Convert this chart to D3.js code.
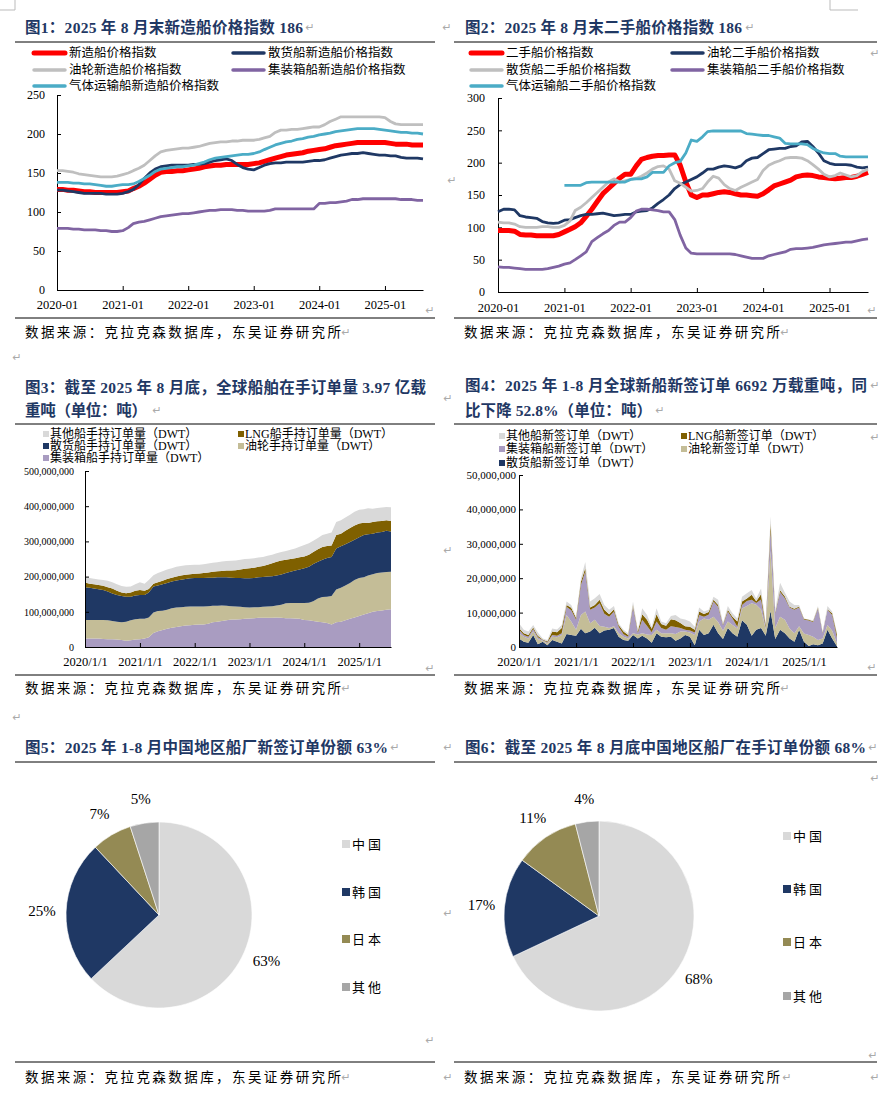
<!DOCTYPE html>
<html>
<head>
<meta charset="utf-8">
<script src="https://cdn.jsdelivr.net/npm/d3@7"></script>
<style>
  body { margin: 0; background: #fff; }
</style>
</head>
<body>
<svg id="page" width="883" height="1099"></svg>
<script>
// months 2020-01 .. 2025-08
const months = d3.timeMonth.range(new Date(2020, 0, 1), new Date(2025, 8, 1));
const yearTicks = d3.timeYear.range(new Date(2020, 0, 1), new Date(2025, 1, 1));

// 图1 新造船价格指数
const nbAll = [129,129,128,128,127,126,126,125,125,125,125,125,
  126,127,130,133,137,142,147,151,152,152,153,153,
  154,155,156,158,159,160,160,161,161,161,161,161,
  162,163,165,167,169,171,173,174,175,176,178,179,
  180,181,183,185,186,187,188,189,189,189,189,189,
  189,188,187,187,187,186,186,186];
const nbBulk = [128,128,127,126,125,124,124,124,124,123,123,123,
  124,126,129,135,143,150,155,158,159,160,160,160,
  160,161,161,162,164,166,167,168,166,161,157,155,
  154,157,160,162,163,163,164,164,164,164,165,166,
  166,167,169,171,173,174,175,175,176,175,174,173,
  173,172,172,170,169,169,169,168];
const nbTanker = [153,153,152,151,149,148,147,146,145,145,145,146,
  148,150,153,156,160,166,172,177,179,180,181,182,
  182,183,184,186,188,189,190,190,191,191,192,192,
  192,193,195,197,202,205,205,206,206,207,208,209,
  209,212,216,219,222,222,222,222,222,222,222,222,
  221,216,213,212,212,212,212,212];
const nbContainer = [79,79,79,78,78,77,77,77,76,76,75,75,
  76,80,85,87,88,90,92,94,95,96,97,98,
  98,99,100,101,102,102,103,103,103,102,102,101,
  101,101,101,102,104,104,104,104,104,104,104,104,
  111,111,112,112,113,114,116,116,117,117,117,117,
  117,117,117,116,116,116,115,115];
const nbGas = [138,138,138,137,137,136,136,135,134,133,133,134,
  135,135,136,139,143,147,152,155,156,157,158,158,
  159,160,162,164,167,169,170,171,172,173,174,174,
  175,177,180,183,186,188,190,191,193,194,196,197,
  199,200,201,203,204,205,206,207,207,207,207,206,
  205,204,203,202,202,201,201,200];
const nbNames = ["新造船价格指数", "散货船新造船价格指数", "油轮新造船价格指数", "集装箱船新造船价格指数", "气体运输船新造船价格指数"];

// 图2 二手船价格指数
const shAll = [95,95,95,94,89,88,88,87,87,87,87,89,
  93,97,101,107,117,128,140,152,160,168,176,182,
  182,195,205,208,210,211,211,212,212,196,170,150,
  146,150,150,152,154,155,154,152,150,150,149,148,
  152,158,164,167,170,173,178,180,181,180,178,177,
  176,175,176,177,177,179,182,185];
const shTanker = [124,128,128,127,118,116,115,114,109,107,106,107,
  111,112,115,118,120,120,121,122,120,118,119,120,
  120,124,125,126,130,137,143,150,160,166,170,174,
  178,184,190,190,193,195,194,192,195,203,207,208,
  214,220,221,222,222,225,226,232,233,225,215,203,
  199,197,197,197,196,193,192,193];
const shBulk = [108,107,107,105,101,100,100,100,101,101,100,100,
  103,110,126,131,138,146,154,162,170,175,170,172,
  174,176,179,184,190,194,195,190,172,168,162,156,
  157,160,170,179,176,166,160,157,162,166,170,174,
  188,196,200,203,207,208,208,207,203,197,190,182,
  178,180,184,181,178,180,186,190];
const shContainer = [39,38,38,37,36,35,35,35,35,36,38,40,
  43,45,50,56,62,78,84,90,95,103,108,108,
  115,125,128,128,127,126,124,124,112,88,68,60,
  59,59,59,59,59,59,59,58,56,54,52,52,
  52,56,58,60,62,66,67,67,68,69,71,73,
  74,75,76,77,77,79,81,82];
const shGas = [null,null,null,null,null,null,null,null,null,null,null,null,
  165,165,165,165,169,170,170,170,170,170,170,170,
  174,175,175,178,185,185,185,195,200,202,215,235,
  233,240,248,249,249,249,249,249,249,245,244,243,
  242,242,240,238,230,229,229,229,228,222,218,215,
  214,214,210,209,209,209,209,209];
const shNames = ["二手船价格指数", "油轮二手船价格指数", "散货船二手船价格指数", "集装箱船二手船价格指数", "气体运输船二手船价格指数"];

// 图3 在手订单量（百万载重吨）
const obContainer = [24,24,24,24,23,22,22,21,20,18,19,21,
  22,24,28,40,45,48,52,55,57,59,61,62,
  63,64,64,66,70,72,74,76,78,78,79,80,
  81,82,83,83,83,83,84,83,82,82,81,80,
  77,76,74,72,70,68,64,70,72,76,80,84,
  88,92,96,100,102,104,106,107];
const obTanker = [53,53,53,53,54,54,52,51,50,54,57,58,
  58,56,56,58,57,55,54,55,55,54,53,53,
  52,51,51,50,47,45,44,41,38,37,35,33,
  31,31,30,31,32,33,34,37,42,43,44,45,
  48,50,56,66,72,75,81,93,96,99,102,106,
  108,106,107,107,108,108,107,107];
const obBulk = [93,91,89,87,85,82,78,76,75,71,67,67,
  68,68,71,74,73,75,76,76,77,78,79,80,
  81,81,81,81,80,81,80,81,81,81,82,82,
  83,83,85,85,85,85,85,86,86,89,92,95,
  99,102,106,104,106,110,111,117,118,117,116,115,
  116,120,117,115,115,115,117,114];
const obLng = [13,12,12,12,12,12,14,12,10,10,12,14,
  14,12,10,8,9,10,11,11,11,12,12,12,
  12,13,14,15,17,17,18,19,20,22,24,27,
  29,29,30,31,34,37,39,40,38,36,35,35,
  33,34,34,36,36,34,32,38,36,38,40,40,
  39,35,32,33,32,31,30,30];
const obOther = [15,16,16,16,16,18,18,18,18,18,17,18,
  22,20,25,24,26,27,27,27,28,27,27,26,
  26,25,25,25,25,26,27,27,28,28,28,28,
  27,27,26,26,25,24,24,24,25,26,28,30,
  33,33,32,32,34,35,37,37,38,38,38,39,
  39,38,42,38,38,38,38,39];

// 图4 新签订单（百万载重吨）
const noBulk = [2.5,1.5,1.2,3.5,0.8,1.5,0.5,2.0,1.5,1.0,3.8,3.5,
  3.3,5.3,4.0,4.5,5.6,4.0,4.8,5.0,5.5,3.0,2.0,1.8,
  3.5,2.5,3.3,2.5,1.2,4.0,3.0,2.8,3.0,1.8,2.5,3.5,
  3.0,0.5,5.0,3.5,4.0,6.5,4.0,2.3,5.5,4.0,3.0,7.8,
  6.5,3.3,5.0,5.5,3.3,10.5,2.3,5.0,4.0,2.5,1.5,5.0,
  1.5,0.3,0.8,0.5,1.0,5.0,2.5,0.2];
const noTanker = [1.5,1.5,1.3,1.0,1.5,0.3,0.5,1.0,1.3,2.5,5.5,3.9,
  1.7,4.0,6.3,2.4,2.3,2.1,1.1,0.5,0.5,1.0,1.0,0.7,
  0.5,1.1,0.7,1.1,2.3,1.0,1.0,1.2,1.0,2.0,2.0,1.0,
  1.2,3.0,2.4,4.8,3.9,2.3,3.3,2.4,1.9,2.4,2.4,3.4,
  5.4,9.4,7.3,5.4,1.8,17.5,3.2,3.8,3.9,2.9,2.5,1.0,
  2.4,3.2,2.2,1.5,1.5,1.4,2.2,0.9];
const noContainer = [1.0,0.5,0.5,0.7,0.5,0.2,0.3,0.5,0.5,0.5,2.4,3.3,
  2.9,8.7,11.7,3.9,3.6,6.6,3.8,3.3,4.3,1.9,0.7,0.5,
  7.7,0.5,3.9,2.5,0.8,2.4,1.5,1.0,2.0,2.0,1.0,0.5,
  0.6,0.7,1.9,0.5,1.5,4.4,4.4,1.6,2.9,1.9,0.5,1.0,
  1.5,1.0,0.5,2.9,0.5,6.0,4.3,7.2,6.3,6.1,6.8,5.5,
  4.1,4.2,4.3,9.2,1.5,4.4,4.6,1.5];
const noLng = [0.5,0.5,0.5,0.5,0.5,0.2,0.3,1.0,1.0,1.5,0.5,0.7,
  0.5,1.0,1.0,0.7,0.7,1.0,1.1,0.7,0.7,0.5,0.8,0.5,
  0.5,0.5,1.6,1.8,1.0,2.1,1.2,1.2,2.1,2.0,1.5,1.0,
  1.1,0.8,1.0,0.8,0.8,0.5,0.5,0.3,0.5,0.5,1.5,1.0,
  0.7,1.5,0.5,1.5,0.7,2.0,0.3,0.5,0.5,0.2,0.3,0.3,
  0.2,0.2,0.2,0.3,0.2,0.2,0.5,1.0];
const noOther = [1.4,1.0,1.0,0.7,0.9,0.3,0.4,0.9,0.8,0.9,1.0,0.8,
  0.4,1.0,1.7,1.7,2.0,1.7,1.4,1.3,0.9,0.5,0.5,0.5,
  1.0,0.4,1.8,1.4,0.6,1.8,0.7,0.7,0.9,1.5,1.3,2.0,
  1.5,0.9,1.2,0.7,0.6,0.9,1.5,0.4,1.1,1.0,0.9,1.4,
  1.5,1.4,0.8,1.7,0.6,2.0,0.7,2.2,1.1,1.5,1.1,0.4,
  0.1,0.1,0.3,0.4,0.3,0.9,0.5,0.4];

// 图5 / 图6 份额
const pieNames = ["中国", "韩国", "日本", "其他"];
const pie5Values = [63, 25, 7, 5];
const pie6Values = [68, 17, 11, 4];

const SERIF = "'Liberation Serif','Noto Sans CJK SC',serif";
const TITLE = "#1F3864";
const RED = "#FF0000", NAVY = "#1F3864", LGRAY = "#BFBFBF", PURPLE = "#8064A2", CYAN = "#4BACC6";
const C_OTHER = "#D9D9D9", C_LNG = "#7F6000", C_BULK = "#1F3864", C_TANKER = "#C4BD97", C_CONT = "#A99CC1";
const pieColors = ["#D9D9D9", "#1F3864", "#948A54", "#A6A6A6"];

const svg = d3.select("#page");

function addText(x, y, s, size, o) {
  o = o || {};
  const t = svg.append("text")
    .attr("x", x).attr("y", y)
    .attr("dominant-baseline", "central")
    .attr("font-family", o.font || SERIF)
    .attr("font-size", size)
    .attr("fill", o.fill || "#000")
    .attr("text-anchor", o.anchor || "start")
    .text(s);
  if (o.bold) t.attr("font-weight", "bold");
  if (o.len) t.attr("textLength", o.len).attr("lengthAdjust", "spacing");
  if (o.ls) t.attr("letter-spacing", o.ls);
  return t;
}

function hline(x1, x2, y) {
  svg.append("line").attr("x1", x1).attr("x2", x2).attr("y1", y).attr("y2", y)
    .attr("stroke", "#000").attr("stroke-width", 1);
}

function styleAxis(g, size) {
  g.selectAll("text").attr("font-family", SERIF).attr("font-size", size).attr("fill", "#000");
  g.selectAll("path, line").attr("stroke", "#000");
}

// page corner marks
svg.append("path").attr("d", "M15,0 V10 H0").attr("fill", "none").attr("stroke", "#bbb");
svg.append("path").attr("d", "M830,0 V10 H858").attr("fill", "none").attr("stroke", "#bbb");

// titles, rules and sources
addText(25, 27, "图1：2025 年 8 月末新造船价格指数 186", 15.5, { bold: true, fill: TITLE, len: 278 });
addText(465, 27, "图2：2025 年 8 月末二手船价格指数 186", 15.5, { bold: true, fill: TITLE, len: 277 });
addText(25, 387, "图3：截至 2025 年 8 月底，全球船舶在手订单量 3.97 亿载", 15.5, { bold: true, fill: TITLE, len: 401 });
addText(25, 410, "重吨（单位：吨）", 15.5, { bold: true, fill: TITLE, len: 122 });
addText(465, 385, "图4：2025 年 1-8 月全球新船新签订单 6692 万载重吨，同", 15.5, { bold: true, fill: TITLE, len: 402 });
addText(465, 410, "比下降 52.8%（单位：吨）", 15.5, { bold: true, fill: TITLE, len: 187 });
addText(25, 747, "图5：2025 年 1-8 月中国地区船厂新签订单份额 63%", 15.5, { bold: true, fill: TITLE, len: 363 });
addText(465, 747, "图6：截至 2025 年 8 月底中国地区船厂在手订单份额 68%", 15.5, { bold: true, fill: TITLE, len: 401 });

[42, 318, 424, 675, 762, 1062].forEach(y => { hline(15, 435, y); hline(454, 877, y); });

[332, 688, 1077].forEach(y => {
  addText(25, y, "数据来源：克拉克森数据库，东吴证券研究所", 13.5, { len: 316 });
  addText(464, y, "数据来源：克拉克森数据库，东吴证券研究所", 13.5, { len: 316 });
});

const returnMarks = [[310,27],[447,27],[750,27],[875,53],[452,180],[430,310],[872,310],
  [346,332],[785,332],[17,357],[157,410],[448,398],[875,385],[660,410],[875,437],[430,668],
  [448,550],[872,667],[346,688],[785,688],[17,717],[395,747],[448,747],[873,747],[875,778],
  [430,1040],[448,913],[873,1055],[346,1077],[448,1077],[787,1077],[875,1077]];
returnMarks.forEach(p => addText(p[0], p[1], "\u21B5", 11, { font: "'DejaVu Sans'", fill: "#aaa", anchor: "middle" }));

// line charts
function drawLines(o) {
  const x = d3.scaleTime().domain([months[0], months[months.length - 1]]).range([o.x0, o.x1]);
  const y = d3.scaleLinear().domain([0, o.ymax]).range([o.y0, o.y1]);

  const ya = svg.append("g").attr("transform", `translate(${o.x0},0)`)
    .call(d3.axisLeft(y).tickValues(d3.range(0, o.ymax + 1, 50)).tickSizeInner(-4).tickSizeOuter(0).tickPadding(o.ypad));
  styleAxis(ya, 12);
  const xa = svg.append("g").attr("transform", `translate(0,${o.y0})`)
    .call(d3.axisBottom(x).tickValues(yearTicks).tickFormat(d3.timeFormat("%Y-%m")).tickSizeInner(-4).tickSizeOuter(0).tickPadding(o.xpad));
  styleAxis(xa, 12.5);

  const line = d3.line().defined(v => v != null).x((v, i) => x(months[i])).y(v => y(v));
  o.series.forEach((s, k) => {
    svg.append("path").datum(s)
      .attr("d", line)
      .attr("fill", "none")
      .attr("stroke", o.colors[k])
      .attr("stroke-width", k == 0 ? 5 : 2.8)
      .attr("stroke-linejoin", "round");
  });

  // legend
  const rows = [53, 70, 86];
  o.names.forEach((n, k) => {
    const col = k % 2, row = Math.floor(k / 2);
    const sx = col == 0 ? o.leg[0] : o.leg[1];
    svg.append("line").attr("x1", sx).attr("x2", sx + 31).attr("y1", rows[row]).attr("y2", rows[row])
      .attr("stroke", o.colors[k]).attr("stroke-width", k == 0 ? 5 : 3.5).attr("stroke-linecap", "round");
    addText(sx + 35, rows[row], n, 12.5);
  });
}

drawLines({ x0: 57, x1: 423, y0: 290, y1: 95, ymax: 250, ypad: 12, xpad: 10,
  series: [nbAll, nbBulk, nbTanker, nbContainer, nbGas],
  colors: [RED, NAVY, LGRAY, PURPLE, CYAN], names: nbNames, leg: [34, 233] });

drawLines({ x0: 498, x1: 868, y0: 292, y1: 98, ymax: 300, ypad: 13, xpad: 11,
  series: [shAll, shTanker, shBulk, shContainer, shGas],
  colors: [RED, NAVY, LGRAY, PURPLE, CYAN], names: shNames, leg: [471, 672] });

// stacked area charts
function drawStack(o) {
  const rows = months.map((m, i) => {
    const r = { date: m };
    o.keys.forEach((k, j) => { r[k] = o.values[j][i]; });
    return r;
  });
  const x = d3.scaleTime().domain([months[0], months[months.length - 1]]).range([o.x0, o.x1]);
  const y = d3.scaleLinear().domain([0, o.ymax]).range([o.y0, o.y1]);
  const layers = d3.stack().keys(o.keys)(rows);
  const area = d3.area().x(d => x(d.data.date)).y0(d => y(d[0])).y1(d => y(d[1]));
  layers.forEach((l, j) => {
    svg.append("path").datum(l).attr("d", area).attr("fill", o.colors[j]);
  });

  const ya = svg.append("g").attr("transform", `translate(${o.x0},0)`)
    .call(d3.axisLeft(y).tickValues(d3.range(0, o.ymax + 0.001, o.ystep)).tickSizeInner(-4).tickSizeOuter(0)
      .tickPadding(o.ypad).tickFormat(v => d3.format(",")(Math.round(v * 1e6))));
  styleAxis(ya, o.yfont);
  const xa = svg.append("g").attr("transform", `translate(0,${o.y0})`)
    .call(d3.axisBottom(x).tickValues(yearTicks).tickFormat(d3.timeFormat("%Y/%-m/%-d")).tickSizeInner(-4).tickSizeOuter(0).tickPadding(10));
  styleAxis(xa, 12.5);

  o.legend.forEach(it => {
    svg.append("rect").attr("x", it.x).attr("y", it.y - 3).attr("width", 6).attr("height", 6).attr("fill", it.color);
    addText(it.x + 7, it.y, it.name, 12);
  });
}

drawStack({ x0: 85, x1: 391, y0: 647, y1: 471, ymax: 500, ystep: 100, ypad: 11, yfont: 10,
  keys: ["container", "tanker", "bulk", "lng", "other"],
  values: [obContainer, obTanker, obBulk, obLng, obOther],
  colors: [C_CONT, C_TANKER, C_BULK, C_LNG, C_OTHER],
  legend: [
    { x: 43, y: 434, color: C_OTHER, name: "其他船手持订单量（DWT）" },
    { x: 238, y: 434, color: C_LNG, name: "LNG船手持订单量（DWT）" },
    { x: 43, y: 446, color: C_BULK, name: "散货船手持订单量（DWT）" },
    { x: 238, y: 446, color: C_TANKER, name: "油轮手持订单量（DWT）" },
    { x: 43, y: 458, color: C_CONT, name: "集装箱船手持订单量（DWT）" }
  ] });

drawStack({ x0: 519, x1: 837, y0: 647, y1: 475, ymax: 50, ystep: 10, ypad: 3, yfont: 11,
  keys: ["bulk", "tanker", "container", "lng", "other"],
  values: [noBulk, noTanker, noContainer, noLng, noOther],
  colors: [C_BULK, C_TANKER, C_CONT, C_LNG, C_OTHER],
  legend: [
    { x: 499, y: 436, color: C_OTHER, name: "其他船新签订单（DWT）" },
    { x: 681, y: 436, color: C_LNG, name: "LNG船新签订单（DWT）" },
    { x: 499, y: 449, color: C_CONT, name: "集装箱船新签订单（DWT）" },
    { x: 681, y: 449, color: C_TANKER, name: "油轮新签订单（DWT）" },
    { x: 499, y: 463, color: C_BULK, name: "散货船新签订单（DWT）" }
  ] });

// pies
function drawPie(cx, cy, r, values, labelR, lx, lys) {
  const arcs = d3.pie().sort(null)(values);
  const arc = d3.arc().innerRadius(0).outerRadius(r);
  const labelArc = d3.arc().innerRadius(labelR).outerRadius(labelR);
  const g = svg.append("g").attr("transform", `translate(${cx},${cy})`);
  g.selectAll("path").data(arcs).enter().append("path")
    .attr("d", arc)
    .attr("fill", (d, i) => pieColors[i])
    .attr("stroke", "#fff").attr("stroke-width", 0.6);
  arcs.forEach((a, i) => {
    const c = labelArc.centroid(a);
    addText(cx + c[0], cy + c[1], values[i] + "%", 15, { anchor: "middle" });
  });
  pieNames.forEach((n, i) => {
    svg.append("rect").attr("x", lx).attr("y", lys[i] - 4).attr("width", 8).attr("height", 8).attr("fill", pieColors[i]);
    addText(lx + 10, lys[i], n, 13, { ls: 3 });
  });
}

drawPie(159, 915, 93, pie5Values, 117, 342, [844, 892, 939, 987]);
drawPie(599, 916, 95, pie6Values, 118, 783, [836, 889, 942, 996]);
</script>
</body>
</html>
